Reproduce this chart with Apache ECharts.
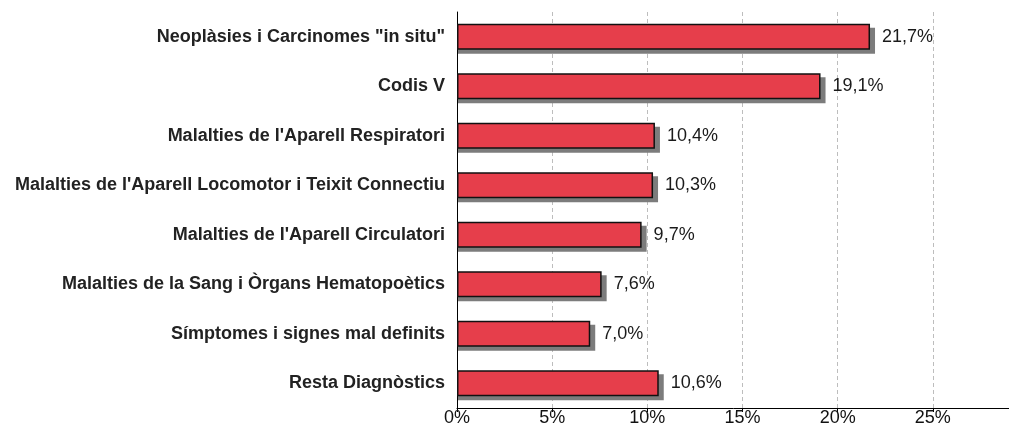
<!DOCTYPE html>
<html>
<head>
<meta charset="utf-8">
<script src="https://cdn.jsdelivr.net/npm/echarts@6/dist/echarts.min.js"></script>
<style>
  html, body { margin: 0; padding: 0; background: #fff; overflow: hidden; }
  #chart { width: 1009px; height: 428px; }
</style>
</head>
<body>
<div id="chart"></div>
<script>
// Diagnostic groups, top to bottom
const categories = [
  'Neoplàsies i Carcinomes "in situ"',
  'Codis V',
  "Malalties de l'Aparell Respiratori",
  "Malalties de l'Aparell Locomotor i Teixit Connectiu",
  "Malalties de l'Aparell Circulatori",
  'Malalties de la Sang i Òrgans Hematopoètics',
  'Símptomes i signes mal definits',
  'Resta Diagnòstics'
];
// Share of cases, percent
const values = [21.7, 19.1, 10.4, 10.3, 9.7, 7.6, 7.0, 10.6];

const FONT = 'Liberation Sans, Arial, sans-serif';
const BAR_H = 26;
const fmt = v => v.toFixed(1).replace('.', ',') + '%';

// Grey drop shadow behind each bar: starts at the axis, reaches past the bar end and below it
function renderShadow(params, api) {
  const start = api.coord([0, api.value(1)]);
  const end = api.coord([api.value(0), api.value(1)]);
  return {
    type: 'rect',
    shape: { x: start[0] + 1, y: start[1] - BAR_H / 2 + 4, width: end[0] - start[0] + 4, height: BAR_H },
    style: { fill: '#7c7c7c' }
  };
}

const chart = echarts.init(document.getElementById('chart'), null, { renderer: 'canvas' });
chart.setOption({
  animation: false,
  backgroundColor: '#ffffff',
  grid: {
    left: 457, width: 571, top: 12, bottom: 20,
    containLabel: false,
    outerBoundsMode: 'none'
  },
  xAxis: {
    type: 'value',
    min: 0,
    max: 30,
    interval: 5,
    axisLine: { show: true, lineStyle: { color: '#000', width: 1 } },
    axisTick: { show: true, length: 4, lineStyle: { color: '#000' } },
    axisLabel: {
      formatter: v => v + '%',
      color: '#111',
      fontFamily: FONT,
      fontSize: 18,
      margin: 1
    },
    splitLine: { show: true, lineStyle: { color: '#bdbdbd', type: [4, 3], width: 1 } }
  },
  yAxis: {
    type: 'category',
    data: categories,
    inverse: true,
    axisLine: { show: true, lineStyle: { color: '#000', width: 1 } },
    axisTick: { show: false },
    axisLabel: {
      color: '#222',
      fontFamily: FONT,
      fontWeight: 'bold',
      fontSize: 18,
      margin: 12
    }
  },
  series: [
    {
      type: 'custom',
      z: 1,
      renderItem: renderShadow,
      encode: { x: 0, y: 1 },
      data: values.map((v, i) => [v, i])
    },
    {
      type: 'bar',
      z: 2,
      data: values,
      barWidth: BAR_H,
      itemStyle: {
        color: '#e63e4b',
        borderColor: '#111',
        borderWidth: 1.5
      },
      label: {
        show: true,
        position: 'right',
        distance: 12,
        formatter: p => fmt(p.value),
        color: '#1a1a1a',
        fontFamily: FONT,
        fontSize: 18
      }
    }
  ]
});
</script>
</body>
</html>
